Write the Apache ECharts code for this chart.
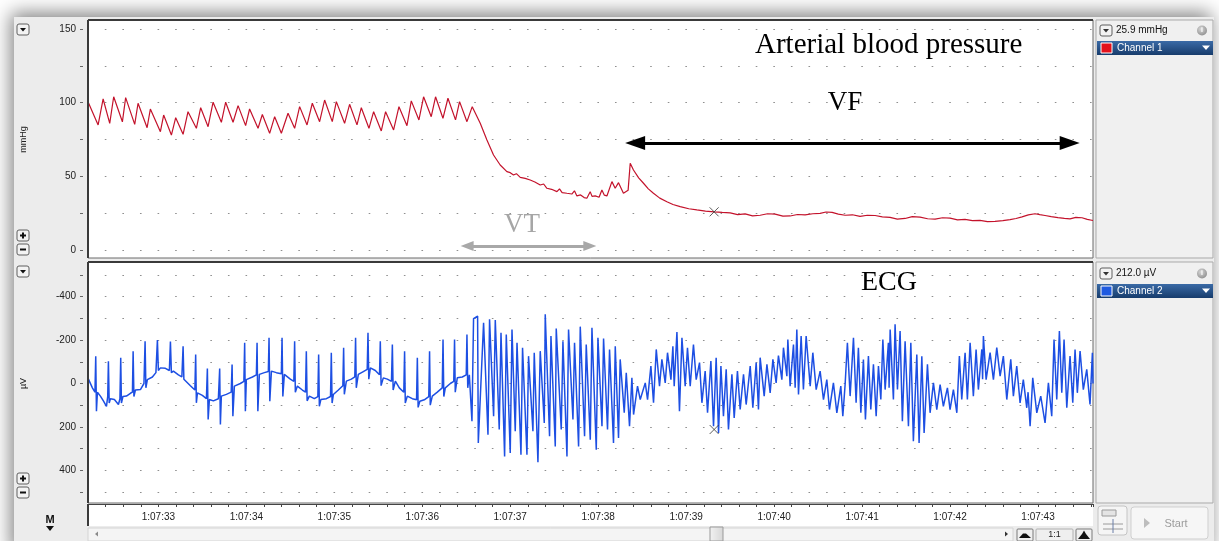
<!DOCTYPE html>
<html><head><meta charset="utf-8">
<script src="https://cdn.jsdelivr.net/npm/echarts@6/dist/echarts.min.js"></script>
<style>html,body{margin:0;padding:0;background:#fff}#c{width:1219px;height:541px}</style>
</head><body><div id="c"></div>
<script>
// ---------- DATA (time in seconds after 1:07:00) ----------
const timeMin = 32.2, timeMax = 43.625;
const bpTicks = [0, 50, 100, 150];
const ecgTicks = [-400, -200, 0, 200, 400];
const cursorTime = 39.318, cursorBP = 25.9, cursorECG = 212.0;

// Arterial blood pressure (mmHg), [time, value]
const bpSinus = [[32.205,100],[32.315,84.9],[32.372,102.5],[32.447,86],[32.492,104],[32.591,87],[32.628,103.4],[32.731,85.3],[32.769,99.6],[32.872,83],[32.909,95.7],[33.023,80.3],[33.060,91.6],[33.148,78],[33.197,89.8],[33.281,78.5],[33.337,93.9],[33.432,82.6],[33.481,96.6],[33.565,83.7],[33.622,100.3],[33.716,86.7],[33.765,100.3],[33.849,86.7],[33.906,98],[33.992,84.4],[34.037,95.7],[34.133,82.6],[34.182,92],[34.265,79.2],[34.322,90.5],[34.398,79.2],[34.474,92.8],[34.549,82.6],[34.606,97.3],[34.690,84.9],[34.750,99.6],[34.833,87.1],[34.890,101.8],[34.977,87.1],[35.023,100.7],[35.117,86],[35.174,98.9],[35.258,84.9],[35.307,96.6],[35.394,82.6],[35.447,93.9],[35.534,80.8],[35.583,93.9],[35.674,81.5],[35.735,97.3],[35.826,84.4],[35.875,101.2],[35.962,88.3],[36.015,104],[36.102,90.5],[36.151,104],[36.235,89.4],[36.292,103],[36.378,88.3],[36.424,100.7],[36.508,87.1],[36.568,97.3]];
const bpDecline = [[36.659,86],[36.735,74.7],[36.810,64.5],[36.886,57.7],[36.962,53.2],[37.000,52.5],[37.037,50.9],[37.070,51.8],[37.114,49.3],[37.170,48.6],[37.227,47.5],[37.280,46.2],[37.341,44.1],[37.380,44.8],[37.417,41.9],[37.470,41.2],[37.531,39.6],[37.560,41.5],[37.590,39.0],[37.644,38.5],[37.700,38.0],[37.730,40.2],[37.758,36.7],[37.800,37.4],[37.840,35.6],[37.871,35.1],[37.909,39.6],[37.930,36.4],[37.966,36.7],[38.010,35.8],[38.042,40.7],[38.070,37.2],[38.099,36.7],[38.156,46.4],[38.193,41.9],[38.231,45.7],[38.287,38.5],[38.340,40.5],[38.364,58.9],[38.401,54.3],[38.460,49.0],[38.515,45.3],[38.570,41.5],[38.628,38.5],[38.700,35.2],[38.781,32.8],[38.850,30.9],[38.932,29.4],[39.030,28.0],[39.122,27.2],[39.220,26.4],[39.318,25.9]];
const bpVF = [[39.410,25.5],[39.500,25.2],[39.585,24.0],[39.670,24.5],[39.755,23.2],[39.841,23.6],[39.925,24.6],[40.011,24.3],[40.100,23.0],[40.182,23.1],[40.265,24.1],[40.352,23.8],[40.440,24.6],[40.523,24.9],[40.590,25.8],[40.659,25.5],[40.730,24.4],[40.807,23.6],[40.890,23.9],[40.977,22.8],[41.060,23.6],[41.148,23.4],[41.230,22.5],[41.318,22.1],[41.400,21.0],[41.489,21.4],[41.570,22.6],[41.659,22.3],[41.745,21.2],[41.830,21.0],[41.915,21.9],[42.000,21.6],[42.085,20.5],[42.170,20.8],[42.255,20.0],[42.341,20.1],[42.425,19.2],[42.511,19.4],[42.600,19.9],[42.682,20.6],[42.750,21.4],[42.818,22.5],[42.890,23.8],[42.966,24.6],[43.020,24.0],[43.080,23.4],[43.150,22.6],[43.227,22.0],[43.300,21.5],[43.364,21.1],[43.430,22.1],[43.500,21.9],[43.560,20.8],[43.625,20.0]];

// ECG (µV), [time, value]
const ecgSinus = [[32.205,-20],[32.250,20],[32.279,40],[32.288,-126],[32.296,128],[32.307,40],[32.341,58],[32.375,80],[32.410,105],[32.424,60],[32.432,-103],[32.441,90],[32.455,70],[32.500,74],[32.546,97],[32.563,70],[32.572,-119],[32.580,90],[32.597,60],[32.637,58],[32.682,45],[32.705,40],[32.713,-149],[32.722,60],[32.739,30],[32.796,28],[32.836,0],[32.849,-195],[32.858,20],[32.875,-18],[32.932,-30],[32.972,-50],[32.989,-200],[33.000,-60],[33.023,-72],[33.080,-70],[33.125,-60],[33.137,-193],[33.148,-50],[33.171,-57],[33.228,-40],[33.267,-30],[33.281,-172],[33.290,-20],[33.307,-26],[33.364,10],[33.415,30],[33.424,-134],[33.432,89],[33.444,43],[33.500,55],[33.546,70],[33.557,-69],[33.566,166],[33.580,74],[33.625,80],[33.682,70],[33.697,-69],[33.705,189],[33.716,58],[33.773,50],[33.828,40],[33.838,-88],[33.847,151],[33.864,12],[33.932,0],[33.972,-10],[33.981,-188],[33.989,128],[34.000,-18],[34.069,-30],[34.114,-40],[34.122,-188],[34.131,128],[34.148,-42],[34.205,-50],[34.250,-55],[34.258,-211],[34.267,82],[34.285,-57],[34.341,-50],[34.398,-45],[34.406,-211],[34.415,60],[34.432,-42],[34.500,-20],[34.540,-10],[34.549,-195],[34.557,40],[34.580,12],[34.637,30],[34.673,40],[34.682,-149],[34.691,80],[34.716,58],[34.773,70],[34.813,60],[34.822,-134],[34.830,105],[34.847,74],[34.910,70],[34.957,60],[34.966,-142],[34.975,90],[34.989,51],[35.046,30],[35.097,10],[35.106,-165],[35.114,50],[35.137,-11],[35.194,-20],[35.233,-30],[35.242,-211],[35.250,20],[35.273,-42],[35.330,-55],[35.374,-65],[35.383,-234],[35.392,-20],[35.410,-72],[35.466,-60],[35.514,-40],[35.523,-195],[35.532,10],[35.557,-26],[35.603,-20],[35.650,-10],[35.660,-180],[35.669,30],[35.694,-11],[35.739,20],[35.790,40],[35.799,-149],[35.807,90],[35.830,58],[35.887,70],[35.935,75],[35.944,-119],[35.953,110],[35.972,82],[36.023,75],[36.074,60],[36.083,-149],[36.091,100],[36.114,58],[36.171,40],[36.227,20],[36.236,-203],[36.245,60],[36.262,20],[36.319,0],[36.358,-10],[36.367,-203],[36.375,40],[36.398,-26],[36.455,-30],[36.500,-40],[36.508,-226],[36.517,20],[36.535,-40],[36.565,174],[36.583,-299]];
const ecgVT = [[36.629,-311],[36.637,274],[36.697,-280],[36.747,236],[36.765,-296],[36.811,151],[36.830,-292],[36.875,212],[36.895,-234],[36.936,336],[36.955,-226],[37.000,320],[37.020,-249],[37.057,220],[37.077,-188],[37.122,328],[37.140,-165],[37.190,328],[37.208,-126],[37.258,220],[37.273,-142],[37.315,363],[37.341,-149],[37.387,182],[37.398,-319],[37.447,243],[37.463,-219],[37.512,290],[37.523,-253],[37.580,212],[37.599,-195],[37.645,336],[37.663,-249],[37.713,166],[37.731,-188],[37.777,290],[37.796,-262],[37.845,243],[37.864,-180],[37.910,259],[37.929,-257],[37.978,305],[37.997,-211],[38.043,197],[38.061,-207],[38.106,212],[38.129,-157],[38.174,274],[38.194,-172],[38.231,251],[38.250,-111],[38.296,135],[38.319,-49],[38.356,197],[38.383,-26],[38.402,143]];
const ecgVF = [[38.447,12],[38.478,74],[38.535,-3],[38.561,74],[38.599,-80],[38.629,89],[38.660,-157],[38.697,12],[38.724,-111],[38.762,-3],[38.788,-142],[38.827,-18],[38.849,-172],[38.864,12],[38.895,-237],[38.924,128],[38.952,-211],[38.989,12],[39.015,-165],[39.046,12],[39.083,-180],[39.114,-18],[39.152,-96],[39.179,89],[39.216,-57],[39.243,135],[39.281,-103],[39.311,197],[39.341,-119],[39.368,228],[39.395,-80],[39.424,151],[39.455,-65],[39.481,212],[39.520,-42],[39.546,159],[39.583,-57],[39.614,120],[39.652,-42],[39.682,97],[39.728,-80],[39.758,112],[39.796,-96],[39.822,120],[39.841,-119],[39.887,58],[39.918,-88],[39.955,43],[39.986,-111],[40.023,-3],[40.049,-129],[40.088,-18],[40.106,-165],[40.145,-34],[40.156,-203],[40.182,12],[40.220,-180],[40.239,20],[40.258,-249],[40.277,51],[40.307,-219],[40.333,28],[40.364,-219],[40.410,12],[40.440,-142],[40.478,28],[40.523,-57],[40.561,74],[40.599,-18],[40.629,120],[40.674,-3],[40.713,135],[40.758,12],[40.781,151],[40.807,5],[40.833,-188],[40.864,58],[40.902,-211],[40.932,89],[40.958,-165],[40.986,135],[41.015,-111],[41.038,166],[41.072,-126],[41.099,120],[41.129,-88],[41.160,151],[41.186,-80],[41.213,74],[41.236,-203],[41.262,28],[41.299,-188],[41.307,20],[41.319,-249],[41.356,74],[41.375,-273],[41.402,28],[41.432,-242],[41.458,174],[41.489,-195],[41.527,197],[41.554,-188],[41.583,266],[41.622,-134],[41.648,274],[41.679,-126],[41.705,228],[41.743,-88],[41.773,135],[41.811,-3],[41.849,120],[41.887,5],[41.924,105],[41.970,20],[42.000,120],[42.038,28],[42.077,135],[42.106,-126],[42.133,74],[42.171,-142],[42.197,74],[42.228,-188],[42.265,58],[42.296,-157],[42.322,28],[42.361,-157],[42.370,-20],[42.379,-219],[42.410,-18],[42.455,-142],[42.493,-18],[42.531,-165],[42.569,-34],[42.606,-126],[42.645,74],[42.690,-111],[42.720,58],[42.758,-80],[42.796,89],[42.833,-18],[42.872,112],[42.887,40],[42.910,197],[42.940,-26],[42.986,135],[43.031,58],[43.080,182],[43.118,-3],[43.156,151],[43.182,-203],[43.213,74],[43.243,-242],[43.270,43],[43.296,-203],[43.327,112],[43.364,-126],[43.395,89],[43.421,-157],[43.447,43],[43.478,-149],[43.515,28],[43.554,-65],[43.591,97],[43.618,-142],[43.625,0]];

// annotation arrows [startTime, endTime, level]
const vfArrow = [38.42, 43.36, 72.6];
const vtArrow = [36.51, 37.905, 2.7];

// ---------- LAYOUT ----------
const L = 88, R = 1093, GW = R - L;
const pxPerSec = GW / (timeMax - timeMin);
const dotPeriod = 0.2 * pxPerSec;
const FONT = '"Liberation Sans", Arial, sans-serif';
const SERIF = '"Liberation Serif", "Times New Roman", serif';

function rect(x, y, w, h, fill, stroke, z, r, lw) {
  return {type:'rect', silent:true, z:z, shape:{x:x, y:y, width:w, height:h, r:r||0},
          style:{fill:fill, stroke:stroke||null, lineWidth:lw||1}};
}
function txt(x, y, s, font, fill, align, z) {
  return {type:'text', silent:true, z:z||50, x:x, y:y,
          style:{text:s, font:font, fill:fill, align:align||'left', verticalAlign:'middle',
                 textAlign:align||'left', textVerticalAlign:'middle'}};
}
function poly(pts, fill, z) { return {type:'polygon', silent:true, z:z||50, shape:{points:pts}, style:{fill:fill}}; }
function ln(x1,y1,x2,y2,stroke,lw,z){ return {type:'line', silent:true, z:z||50, shape:{x1:x1,y1:y1,x2:x2,y2:y2}, style:{stroke:stroke, lineWidth:lw||1}}; }
function btn(x, y, w, h, z) { return rect(x, y, w, h, '#f3f3f3', '#5f5f5f', z||40, 2); }

const g = [];
// window
g.push({type:'rect', silent:true, z:-30, shape:{x:14, y:17, width:1200, height:540},
        style:{fill:'#ececec', shadowBlur:18, shadowColor:'rgba(0,0,0,0.5)', shadowOffsetX:-3, shadowOffsetY:-4}});
// plot panels
g.push(rect(L, 20, GW, 238, '#ffffff', '#6a6a6a', -20));
g.push(rect(L, 262, GW, 241, '#ffffff', '#6a6a6a', -20));
g.push(ln(L, 20, L, 258, '#3a3a3a', 2, 20));
g.push(ln(L, 20, R, 20, '#3a3a3a', 2, 20));
g.push(ln(L, 262, L, 503, '#3a3a3a', 2, 20));
g.push(ln(L, 262, R, 262, '#3a3a3a', 2, 20));
// time strip
g.push(rect(L, 504, GW, 22, '#ffffff', null, -20));
g.push(ln(L, 504, L, 526, '#3a3a3a', 2, 20));
// right panels
g.push(rect(1096, 20, 117, 238, '#f0f0f0', '#a9a9a9', -20));
g.push(rect(1096, 262, 117, 241, '#f0f0f0', '#a9a9a9', -20));

// left gutter buttons
function dropBtn(x, y) {
  g.push(btn(x, y, 12, 11));
  g.push(poly([[x+3, y+4], [x+9, y+4], [x+6, y+7.5]], '#111', 45));
}
function pmBtns(x, y) {
  g.push(btn(x, y, 12, 11));
  g.push(ln(x+3, y+5.5, x+9, y+5.5, '#111', 2, 45));
  g.push(ln(x+6, y+2.5, x+6, y+8.5, '#111', 2, 45));
  g.push(btn(x, y+14, 12, 11));
  g.push(ln(x+3, y+19.5, x+9, y+19.5, '#111', 2, 45));
}
dropBtn(17, 24); pmBtns(17, 230);
dropBtn(17, 266); pmBtns(17, 473);
// M marker
g.push(txt(50, 520, 'M', 'bold 11px ' + FONT, '#111', 'center'));
g.push(poly([[46, 526], [54, 526], [50, 531]], '#111', 45));

// right panel content
function channelBox(y, readout, name, sq) {
  g.push(btn(1100, y, 12, 11));
  g.push(poly([[1103, y+4], [1109, y+4], [1106, y+7.5]], '#333', 45));
  g.push(txt(1116, y+5.5, readout, '10px ' + FONT, '#111', 'left'));
  g.push({type:'circle', silent:true, z:45, shape:{cx:1202, cy:y+5.5, r:5},
          style:{fill:{type:'radial', x:0.4, y:0.35, r:0.7, colorStops:[{offset:0,color:'#d8d8d8'},{offset:1,color:'#8e8e8e'}]}}});
  g.push(txt(1202, y+5.5, 'i', 'bold 7px ' + FONT, '#ffffff', 'center', 46));
  g.push({type:'rect', silent:true, z:40, shape:{x:1097, y:y+16, width:116, height:14},
          style:{fill:{type:'linear', x:0, y:0, x2:0, y2:1, colorStops:[{offset:0,color:'#3a6aa6'},{offset:1,color:'#173c6c'}]}}});
  g.push(rect(1101, y+18, 11, 10, sq, '#ffffff', 45));
  g.push(txt(1117, y+23, name, '10px ' + FONT, '#ffffff', 'left'));
  g.push(poly([[1202, y+20.5], [1210, y+20.5], [1206, y+25]], '#ffffff', 45));
}
channelBox(25, cursorBP.toFixed(1) + ' mmHg', 'Channel 1', '#e3121c');
channelBox(268, cursorECG.toFixed(1) + ' µV', 'Channel 2', '#1f5ae0');

// bottom scroll row
g.push(rect(L, 528, 925, 13, '#f4f4f4', '#d4d4d4', -10));
g.push(poly([[98, 531.5], [98, 536.5], [95, 534]], '#8a8a8a', 45));
g.push({type:'rect', silent:true, z:40, shape:{x:710, y:527, width:13, height:14},
        style:{fill:{type:'linear', x:0, y:0, x2:1, y2:0, colorStops:[{offset:0,color:'#f2f2f2'},{offset:1,color:'#d6d6d6'}]}, stroke:'#9a9a9a'}});
g.push(poly([[1005, 531.5], [1005, 536.5], [1008, 534]], '#333', 45));
g.push(rect(1017, 529, 16, 12, '#f0f0f0', '#7a7a7a', 40, 1));
g.push(poly([[1019, 538], [1023, 533.5], [1026, 533.5], [1031, 538]], '#111', 45));
g.push(rect(1036, 529, 37, 12, '#efefef', '#b0b0b0', 40, 1));
g.push(txt(1054.5, 535, '1:1', '9px ' + FONT, '#222', 'center'));
g.push(rect(1076, 529, 16, 12, '#f0f0f0', '#7a7a7a', 40, 1));
g.push(poly([[1078, 539], [1082, 534], [1084, 530.5], [1086, 534], [1090, 539]], '#111', 45));
// bottom-right icon and start button
g.push(rect(1098, 506, 29, 29, '#f5f5f5', '#c4c4c4', 40, 3));
g.push(rect(1102, 510, 14, 6, '#e4e4e4', '#9a9a9a', 41));
g.push(ln(1103, 524, 1123, 524, '#9a9a9a', 1, 42));
g.push(ln(1103, 529, 1123, 529, '#9a9a9a', 1, 42));
g.push(ln(1113, 519, 1113, 533, '#6b7fa8', 1, 42));
g.push(rect(1131, 507, 77, 32, '#f6f6f6', '#cfcfcf', 40, 3));
g.push(poly([[1144, 518], [1150, 523], [1144, 528]], '#bdbdbd', 45));
g.push(txt(1176, 523.5, 'Start', '11px ' + FONT, '#9c9c9c', 'center'));

// annotations
g.push(txt(755, 45, 'Arterial blood pressure', '29px ' + SERIF, '#000', 'left', 60));
g.push(txt(845, 103, 'VF', '27px ' + SERIF, '#000', 'center', 60));
g.push(txt(522, 225, 'VT', '27px ' + SERIF, '#a6a6a6', 'center', 60));
g.push(txt(889, 283, 'ECG', '28px ' + SERIF, '#000', 'center', 60));

function timeLabel(v) {
  const s = Math.round(v);
  if (Math.abs(v - s) > 1e-6) return '';
  return '1:07:' + (s < 10 ? '0' : '') + s;
}
const dotLine = {show:true, lineStyle:{color:'#8f8f8f', width:1, type:[1.6, dotPeriod - 1.6], dashOffset:0.8}};

const option = {
  animation: false,
  backgroundColor: '#ffffff',
  graphic: {elements: g},
  grid: [
    {left: L, top: 29, width: GW, height: 221, outerBoundsMode: 'none', containLabel: false},
    {left: L, top: 275, width: GW, height: 217, outerBoundsMode: 'none', containLabel: false}
  ],
  xAxis: [
    {type:'value', gridIndex:0, min:timeMin, max:timeMax, interval:0.2,
     axisLine:{show:false, onZero:false}, axisTick:{show:false}, axisLabel:{show:false}, splitLine:{show:false}},
    {type:'value', gridIndex:1, min:timeMin, max:timeMax, interval:0.2, offset:12,
     axisLine:{show:true, onZero:false, lineStyle:{color:'#444', width:1}},
     axisTick:{show:true, length:3, lineStyle:{color:'#444'}},
     axisLabel:{formatter:timeLabel, margin:8, fontSize:10, fontFamily:'Liberation Sans', color:'#222'},
     splitLine:{show:false}}
  ],
  yAxis: [
    {type:'value', gridIndex:0, min:0, max:150, interval:25, offset:5,
     name:'mmHg', nameLocation:'middle', nameGap:55, nameRotate:90,
     nameTextStyle:{fontSize:9, fontFamily:'Liberation Sans', color:'#222'},
     axisLine:{show:false, onZero:false}, axisTick:{show:true, length:3, lineStyle:{color:'#666'}},
     axisLabel:{margin:7, fontSize:10, fontFamily:'Liberation Sans', color:'#222',
                formatter: v => bpTicks.indexOf(v) >= 0 ? String(v) : ''},
     splitLine: dotLine},
    {type:'value', gridIndex:1, min:-500, max:500, interval:100, offset:5, inverse:true,
     name:'µV', nameLocation:'middle', nameGap:55, nameRotate:90,
     nameTextStyle:{fontSize:9, fontFamily:'Liberation Sans', color:'#222'},
     axisLine:{show:false, onZero:false}, axisTick:{show:true, length:3, lineStyle:{color:'#666'}},
     axisLabel:{margin:7, fontSize:10, fontFamily:'Liberation Sans', color:'#222',
                formatter: v => ecgTicks.indexOf(v) >= 0 ? String(v) : ''},
     splitLine: dotLine}
  ],
  series: [
    {type:'line', name:'Channel 1', xAxisIndex:0, yAxisIndex:0, showSymbol:false, z:5,
     data: bpSinus.concat(bpDecline, bpVF),
     lineStyle:{color:'#c3122b', width:1.2},
     markLine:{silent:true, animation:false, label:{show:false}, symbol:['triangle','triangle'],
       data:[
         [{coord:[vfArrow[0], vfArrow[2]], symbolSize:[14,20], lineStyle:{color:'#000', width:3, type:'solid'}},
          {coord:[vfArrow[1], vfArrow[2]], symbolSize:[14,20]}],
         [{coord:[vtArrow[0], vtArrow[2]], symbolSize:[10,13], lineStyle:{color:'#a8a8a8', width:3, type:'solid'}},
          {coord:[vtArrow[1], vtArrow[2]], symbolSize:[10,13]}]
       ]}},
    {type:'line', name:'Channel 2', xAxisIndex:1, yAxisIndex:1, showSymbol:false, z:5,
     data: ecgSinus.concat(ecgVT, ecgVF),
     lineStyle:{color:'#1d4fe3', width:1.5}},
    {type:'scatter', xAxisIndex:0, yAxisIndex:0, z:8, symbol:'path://M0,0L10,10M10,0L0,10', symbolSize:9,
     itemStyle:{color:'none', borderColor:'#333', borderWidth:1}, data:[[cursorTime, cursorBP]]},
    {type:'scatter', xAxisIndex:1, yAxisIndex:1, z:8, symbol:'path://M0,0L10,10M10,0L0,10', symbolSize:9,
     itemStyle:{color:'none', borderColor:'#333', borderWidth:1}, data:[[cursorTime, cursorECG]]}
  ]
};
const chart = echarts.init(document.getElementById('c'), null, {renderer:'canvas'});
chart.setOption(option);
</script></body></html>
